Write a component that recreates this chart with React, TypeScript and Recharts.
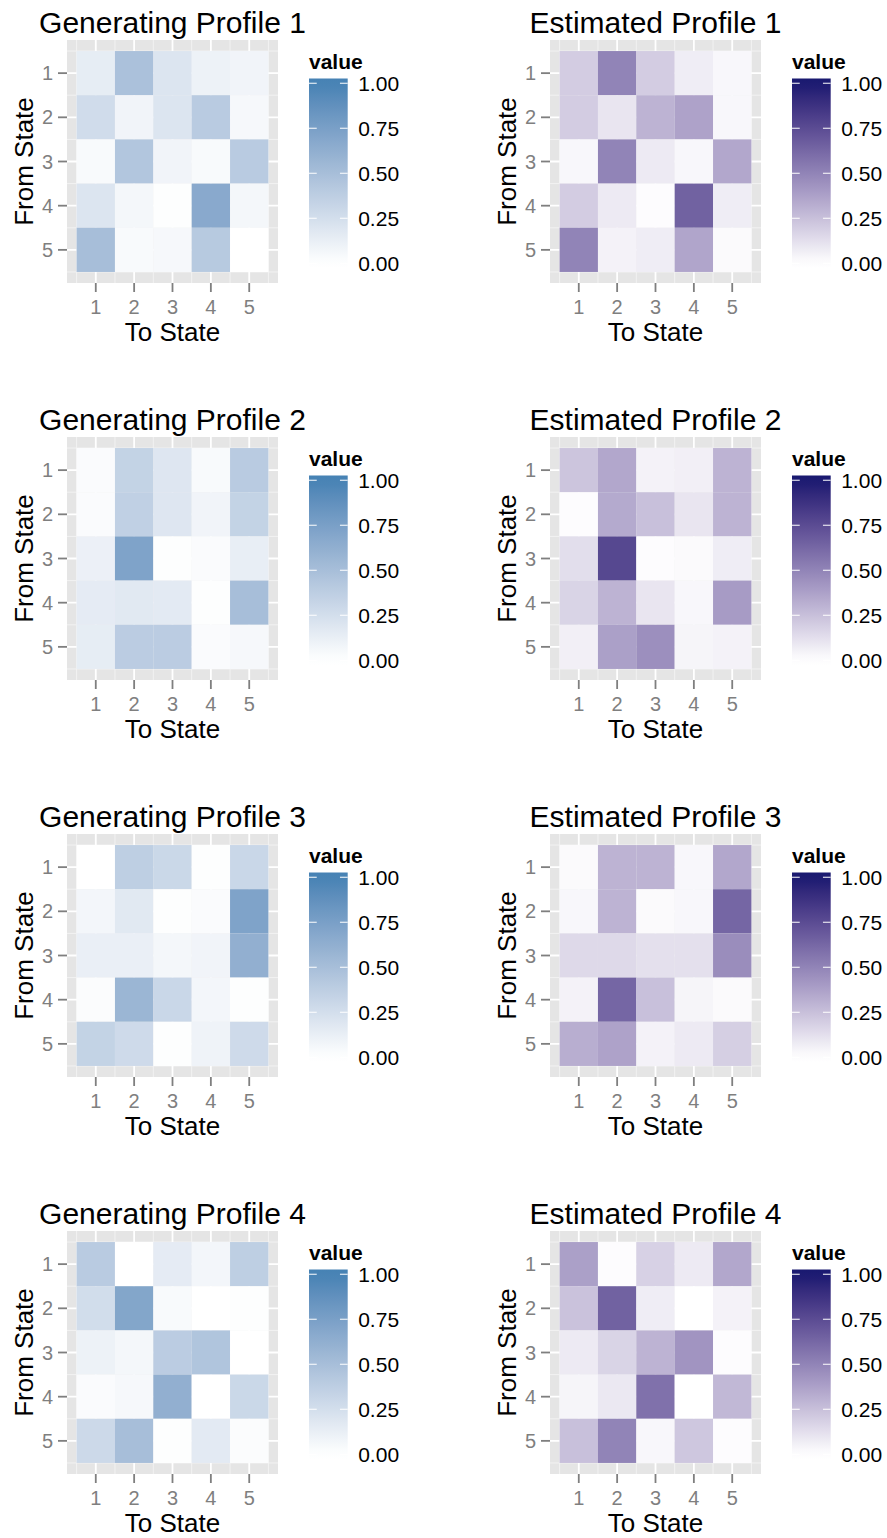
import React from 'react';
import { ScatterChart, Scatter, XAxis, YAxis, CartesianGrid } from 'recharts';

const states = [1, 2, 3, 4, 5];
const minorBreaks = [0.5, 1.5, 2.5, 3.5, 4.5, 5.5];
const legendBreaks = [1, 0.75, 0.5, 0.25, 0];
const legendLabels = ['1.00', '0.75', '0.50', '0.25', '0.00'];

// rows = From State 1..5, columns = To State 1..5
const generating1 = [
  [0.14, 0.48, 0.2, 0.1, 0.08],
  [0.27, 0.08, 0.2, 0.4, 0.05],
  [0.04, 0.44, 0.08, 0.04, 0.4],
  [0.2, 0.06, 0.01, 0.67, 0.06],
  [0.5, 0.04, 0.05, 0.41, 0.0],
];
const estimated1 = [
  [0.2, 0.5, 0.2, 0.07, 0.03],
  [0.2, 0.1, 0.3, 0.37, 0.03],
  [0.03, 0.5, 0.08, 0.03, 0.35],
  [0.2, 0.08, 0.01, 0.65, 0.07],
  [0.5, 0.05, 0.07, 0.36, 0.02],
];
const generating2 = [
  [0.03, 0.34, 0.19, 0.04, 0.4],
  [0.03, 0.36, 0.19, 0.08, 0.34],
  [0.11, 0.72, 0.01, 0.03, 0.13],
  [0.15, 0.17, 0.16, 0.01, 0.5],
  [0.14, 0.39, 0.39, 0.03, 0.05],
];
const estimated2 = [
  [0.23, 0.35, 0.05, 0.06, 0.3],
  [0.01, 0.34, 0.25, 0.1, 0.3],
  [0.13, 0.77, 0.01, 0.02, 0.07],
  [0.17, 0.3, 0.1, 0.03, 0.4],
  [0.06, 0.38, 0.45, 0.04, 0.05],
];
const generating3 = [
  [0.0, 0.37, 0.3, 0.01, 0.31],
  [0.07, 0.17, 0.01, 0.03, 0.72],
  [0.12, 0.12, 0.06, 0.08, 0.62],
  [0.02, 0.57, 0.31, 0.07, 0.01],
  [0.34, 0.28, 0.01, 0.09, 0.28],
];
const estimated3 = [
  [0.02, 0.3, 0.3, 0.03, 0.35],
  [0.03, 0.3, 0.02, 0.03, 0.63],
  [0.15, 0.15, 0.12, 0.12, 0.46],
  [0.05, 0.63, 0.25, 0.04, 0.02],
  [0.32, 0.37, 0.05, 0.08, 0.19],
];
const generating4 = [
  [0.4, 0.0, 0.15, 0.07, 0.37],
  [0.26, 0.7, 0.04, 0.0, 0.01],
  [0.1, 0.06, 0.39, 0.45, 0.0],
  [0.03, 0.05, 0.62, 0.0, 0.3],
  [0.29, 0.5, 0.01, 0.16, 0.02],
];
const estimated4 = [
  [0.38, 0.01, 0.18, 0.08, 0.35],
  [0.24, 0.65, 0.07, 0.0, 0.05],
  [0.08, 0.17, 0.3, 0.43, 0.01],
  [0.04, 0.09, 0.58, 0.0, 0.28],
  [0.25, 0.5, 0.03, 0.22, 0.01],
];

const BLUE = '#4682B4';
const DARK = '#191970';

const panels = [
  { title: 'Generating Profile 1', matrix: generating1, high: BLUE },
  { title: 'Estimated Profile 1', matrix: estimated1, high: DARK },
  { title: 'Generating Profile 2', matrix: generating2, high: BLUE },
  { title: 'Estimated Profile 2', matrix: estimated2, high: DARK },
  { title: 'Generating Profile 3', matrix: generating3, high: BLUE },
  { title: 'Estimated Profile 3', matrix: estimated3, high: DARK },
  { title: 'Generating Profile 4', matrix: generating4, high: BLUE },
  { title: 'Estimated Profile 4', matrix: estimated4, high: DARK },
];

const FONT = '"Liberation Sans", Arial, Helvetica, sans-serif';
const GREY = '#7F7F7F';
const COL_STEP = 483;
const ROW_STEP = 397;
const PLOT_LEFT = 67;
const PLOT_TOP = 40;
const PLOT_W = 211;
const PLOT_H = 243;
const Y_AXIS_W = 40;
const X_AXIS_H = 40;
const DOMAIN: [number, number] = [0.25, 5.75];
const TILE_W = PLOT_W / (DOMAIN[1] - DOMAIN[0]);
const TILE_H = PLOT_H / (DOMAIN[1] - DOMAIN[0]);

// ggplot-like white -> high colour ramp, interpolated in CIELAB
function toLab(hex: string) {
  const c = [1, 3, 5]
    .map((i) => parseInt(hex.slice(i, i + 2), 16) / 255)
    .map((v) => (v <= 0.04045 ? v / 12.92 : Math.pow((v + 0.055) / 1.055, 2.4)));
  const x = (0.4124564 * c[0] + 0.3575761 * c[1] + 0.1804375 * c[2]) / 0.95047;
  const y = 0.2126729 * c[0] + 0.7151522 * c[1] + 0.072175 * c[2];
  const z = (0.0193339 * c[0] + 0.119192 * c[1] + 0.9503041 * c[2]) / 1.08883;
  const f = (t: number) => (t > 216 / 24389 ? Math.cbrt(t) : ((24389 / 27) * t + 16) / 116);
  return [116 * f(y) - 16, 500 * (f(x) - f(y)), 200 * (f(y) - f(z))];
}

function fromLab([L, a, b]: number[]) {
  const fy = (L + 16) / 116;
  const fx = fy + a / 500;
  const fz = fy - b / 200;
  const inv = (t: number) => (t * t * t > 216 / 24389 ? t * t * t : (116 * t - 16) / (24389 / 27));
  const x = inv(fx) * 0.95047;
  const y = inv(fy);
  const z = inv(fz) * 1.08883;
  const lin = [
    3.2404542 * x - 1.5371385 * y - 0.4985314 * z,
    -0.969266 * x + 1.8760108 * y + 0.041556 * z,
    0.0556434 * x - 0.2040259 * y + 1.0572252 * z,
  ];
  const [r, g, bl] = lin.map((v) => {
    const s = v <= 0.0031308 ? 12.92 * v : 1.055 * Math.pow(v, 1 / 2.4) - 0.055;
    return Math.round(Math.min(1, Math.max(0, s)) * 255);
  });
  return `rgb(${r},${g},${bl})`;
}

function ramp(high: string) {
  const lo = toLab('#FFFFFF');
  const hi = toLab(high);
  return (v: number) => fromLab(lo.map((l, k) => l + (hi[k] - l) * v));
}

function Panel({ idx, title, matrix, high }: { idx: number; title: string; matrix: number[][]; high: string }) {
  const color = ramp(high);
  const points = matrix.flatMap((row, r) => row.map((value, c) => ({ to: states[c], from: states[r], value })));
  const left = (idx % 2) * COL_STEP;
  const top = Math.floor(idx / 2) * ROW_STEP;
  const center = PLOT_LEFT + PLOT_W / 2;

  const tile = (props: any) => {
    const { cx, cy, payload } = props;
    return (
      <rect
        x={cx - TILE_W / 2}
        y={cy - TILE_H / 2}
        width={TILE_W}
        height={TILE_H}
        fill={color(payload.value)}
      />
    );
  };

  // colour bar
  const barX = 309;
  const barY = 78.5;
  const barW = 38.7;
  const barH = 189.5;
  const inset = barH / 40;
  const tickY = (v: number) => barY + inset + (1 - v) * (barH - 2 * inset);
  const gradId = `bar-${idx}`;
  const stops = Array.from({ length: 21 }, (_, i) => i / 20);

  return (
    <div style={{ position: 'absolute', left, top, width: 404, height: ROW_STEP }}>
      <div style={{ position: 'absolute', left: PLOT_LEFT - Y_AXIS_W, top: PLOT_TOP }}>
        <ScatterChart
          width={Y_AXIS_W + PLOT_W}
          height={PLOT_H + X_AXIS_H}
          margin={{ top: 0, right: 0, bottom: 0, left: 0 }}
        >
          <CartesianGrid
            fill="#E5E5E5"
            fillOpacity={1}
            stroke="#F2F2F2"
            strokeWidth={1}
            verticalValues={minorBreaks}
            horizontalValues={minorBreaks}
          />
          <CartesianGrid stroke="#FFFFFF" strokeWidth={1.8} verticalValues={states} horizontalValues={states} />
          <XAxis
            type="number"
            dataKey="to"
            domain={DOMAIN}
            allowDataOverflow
            ticks={states}
            interval={0}
            height={X_AXIS_H}
            axisLine={false}
            tickSize={9}
            tickMargin={8}
            tickLine={{ stroke: GREY, strokeWidth: 1.8 }}
            tick={{ fill: GREY, fontSize: 20, fontFamily: FONT }}
          />
          <YAxis
            type="number"
            dataKey="from"
            domain={DOMAIN}
            allowDataOverflow
            reversed
            ticks={states}
            interval={0}
            width={Y_AXIS_W}
            axisLine={false}
            tickSize={9}
            tickMargin={5}
            tickLine={{ stroke: GREY, strokeWidth: 1.8 }}
            tick={{ fill: GREY, fontSize: 20, fontFamily: FONT }}
          />
          <Scatter data={points} shape={tile} isAnimationActive={false} />
        </ScatterChart>
      </div>
      <svg
        width={404}
        height={ROW_STEP}
        style={{ position: 'absolute', left: 0, top: 0, overflow: 'visible', pointerEvents: 'none' }}
        fontFamily={FONT}
      >
        <defs>
          <linearGradient id={gradId} x1="0" y1="0" x2="0" y2="1">
            {stops.map((s) => {
              const v = Math.min(1, Math.max(0, 1 - (s - 0.025) / 0.95));
              return <stop key={s} offset={s} stopColor={color(v)} />;
            })}
          </linearGradient>
        </defs>
        <text x={center} y={32.5} textAnchor="middle" fontSize={30} fill="#000">
          {title}
        </text>
        <text x={center} y={341} textAnchor="middle" fontSize={26} fill="#000">
          To State
        </text>
        <text
          transform={`translate(33, ${PLOT_TOP + PLOT_H / 2}) rotate(-90)`}
          textAnchor="middle"
          fontSize={26}
          fill="#000"
        >
          From State
        </text>
        <text x={barX} y={69} fontSize={21} fontWeight="bold" fill="#000">
          value
        </text>
        <rect x={barX} y={barY} width={barW} height={barH} fill={`url(#${gradId})`} />
        {legendBreaks.map((b, i) => (
          <g key={b}>
            <line x1={barX} x2={barX + barW / 5} y1={tickY(b)} y2={tickY(b)} stroke="#FFFFFF" strokeWidth={1} />
            <line
              x1={barX + barW - barW / 5}
              x2={barX + barW}
              y1={tickY(b)}
              y2={tickY(b)}
              stroke="#FFFFFF"
              strokeWidth={1}
            />
            <text x={barX + barW + 10.5} y={tickY(b) + 7.3} fontSize={21} fill="#000">
              {legendLabels[i]}
            </text>
          </g>
        ))}
      </svg>
    </div>
  );
}

export default function App() {
  return (
    <div style={{ position: 'absolute', left: 0, top: 0, width: 887, height: 1538, background: '#FFFFFF' }}>
      {panels.map((p, i) => (
        <Panel key={p.title} idx={i} title={p.title} matrix={p.matrix} high={p.high} />
      ))}
    </div>
  );
}
